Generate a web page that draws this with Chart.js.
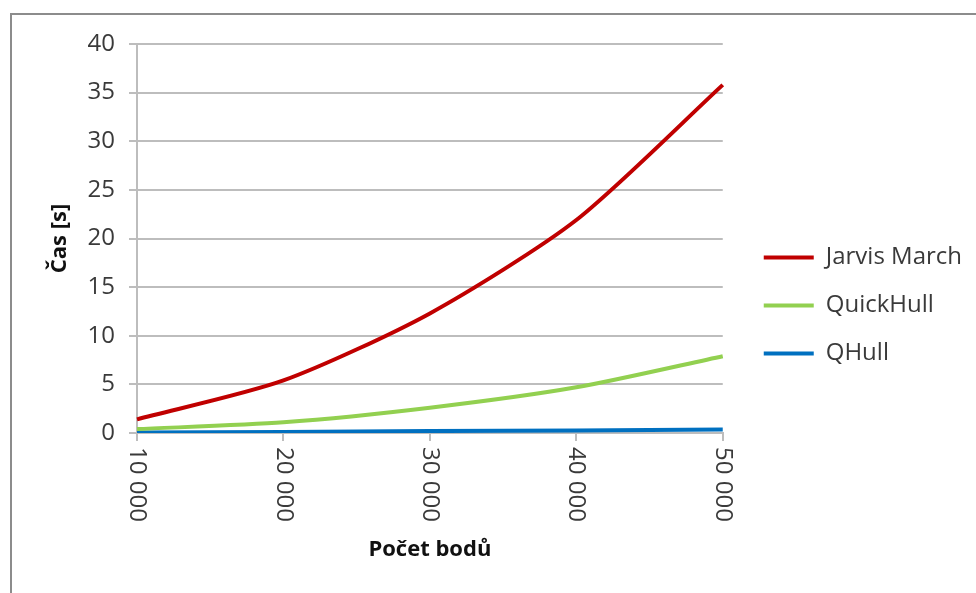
<!DOCTYPE html>
<html>
  <head>
    <meta charset="utf-8" />
    <title>Convex hull timing</title>
    <script src="https://cdn.jsdelivr.net/npm/chart.js"></script>
    <style>
      body {
        margin: 0;
        background: #fff;
      }
      #frame {
        position: absolute;
        left: 10px;
        top: 13px;
        width: 966px;
        height: 580px;
        border-top: 2px solid #8c8c8c;
        border-left: 2px solid #8c8c8c;
      }
    </style>

    <script type="text/javascript">
      // point counts and run times in seconds
      var counts = ["10 000", "20 000", "30 000", "40 000", "50 000"];
      var jarvis = [1.4, 5.4, 12.3, 21.9, 35.8];
      var quickhull = [0.4, 1.1, 2.6, 4.7, 7.9];
      var qhull = [0.05, 0.1, 0.2, 0.25, 0.35];

      var FONT = '"Open Sans", sans-serif';
      var GRID = "#bdbdbd";

      // x labels read top to bottom, chart.js only rotates the other way
      var downLabels = {
        id: "downLabels",
        afterDraw: function (chart) {
          var s = chart.scales.x;
          var ctx = chart.ctx;
          ctx.save();
          ctx.font = "24px " + FONT;
          ctx.fillStyle = "#3a3a3a";
          ctx.textAlign = "left";
          ctx.textBaseline = "middle";
          for (var i = 0; i < s.ticks.length; i++) {
            ctx.save();
            ctx.translate(s.getPixelForTick(i), s.top + 14);
            ctx.rotate(Math.PI / 2);
            ctx.fillText(s.getLabelForValue(s.ticks[i].value), 0, 0);
            ctx.restore();
          }
          ctx.restore();
        },
      };

      function line(label, data, color) {
        return {
          label: label,
          data: data,
          borderColor: color,
          backgroundColor: color,
          borderWidth: 4,
          pointRadius: 0,
          tension: 0.25,
          fill: false,
        };
      }

      function start() {
        new Chart(document.getElementById("graph"), {
          type: "line",
          data: {
            labels: counts,
            datasets: [
              line("Jarvis March", jarvis, "#c00000"),
              line("QuickHull", quickhull, "#92d050"),
              line("QHull", qhull, "#0070c0"),
            ],
          },
          plugins: [downLabels],
          options: {
            responsive: false,
            animation: false,
            layout: {
              padding: { left: 31, top: 29, bottom: 26, right: 4 },
            },
            plugins: {
              tooltip: { enabled: false },
              legend: {
                position: "right",
                align: "center",
                labels: {
                  usePointStyle: true,
                  pointStyle: "line",
                  pointStyleWidth: 50,
                  padding: 24,
                  color: "#3a3a3a",
                  font: { family: FONT, size: 24 },
                },
              },
            },
            scales: {
              x: {
                grid: {
                  drawOnChartArea: false,
                  color: GRID,
                  lineWidth: 2,
                  tickLength: 8,
                },
                border: { color: GRID, width: 2 },
                ticks: { display: false },
                title: {
                  display: true,
                  text: "Počet bodů",
                  color: "#111",
                  font: { family: FONT, size: 22, weight: "bold" },
                },
                afterFit: function (s) {
                  s.height = 134;
                },
              },
              y: {
                min: 0,
                max: 40,
                ticks: {
                  stepSize: 5,
                  padding: 14,
                  color: "#3a3a3a",
                  font: { family: FONT, size: 24 },
                },
                grid: { color: GRID, lineWidth: 2, tickLength: 8 },
                border: { color: GRID, width: 2 },
                title: {
                  display: true,
                  text: "Čas [s]",
                  color: "#111",
                  font: { family: FONT, size: 22, weight: "bold" },
                },
                afterFit: function (s) {
                  s.width = 94;
                },
              },
              // empty strip between the plot and the legend
              gap: {
                position: "right",
                display: false,
                afterFit: function (s) {
                  s.width = 17;
                },
              },
            },
          },
        });
      }
    </script>
  </head>

  <body onLoad="start()">
    <div id="frame">
      <canvas id="graph" width="964" height="578"></canvas>
    </div>
  </body>
</html>
